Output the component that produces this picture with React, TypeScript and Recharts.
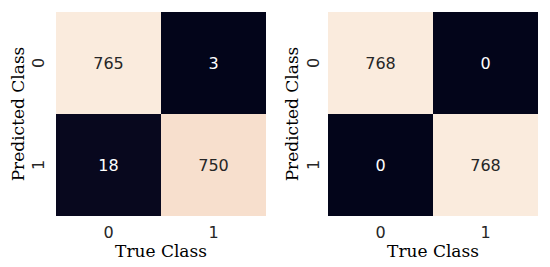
import React from "react";
import { BarChart, Bar, XAxis, YAxis, Cell, LabelList } from "recharts";

const trueClasses = ["0", "1"];
const predictedClasses = ["0", "1"];
// rows: predicted class, cols: true class
const matrixA = [
  [765, 3],
  [18, 750],
];
const matrixB = [
  [768, 0],
  [0, 768],
];

// rocket colormap stops (value -> colour)
const rocketStops: [number, number[]][] = [
  [0.0, [3, 5, 26]],
  [0.02, [8, 8, 30]],
  [0.5, [203, 27, 79]],
  [0.9, [243, 177, 138]],
  [0.98, [247, 223, 205]],
  [1.0, [250, 235, 221]],
];

function rocket(t: number): string {
  for (let i = 1; i < rocketStops.length; i++) {
    const [t1, c1] = rocketStops[i];
    const [t0, c0] = rocketStops[i - 1];
    if (t <= t1) {
      const f = (t - t0) / (t1 - t0 || 1);
      const c = c0.map((v, k) => Math.round(v + (c1[k] - v) * f));
      return `rgb(${c[0]},${c[1]},${c[2]})`;
    }
  }
  const c = rocketStops[rocketStops.length - 1][1];
  return `rgb(${c[0]},${c[1]},${c[2]})`;
}

function buildData(m: number[][]) {
  const flat = m.flat();
  const lo = Math.min(...flat);
  const hi = Math.max(...flat);
  return trueClasses.map((t, j) => {
    const v0 = m[0][j];
    const v1 = m[1][j];
    const n0 = (v0 - lo) / (hi - lo || 1);
    const n1 = (v1 - lo) / (hi - lo || 1);
    return {
      t,
      p1: 1,
      p0: 1,
      v0,
      v1,
      c0: rocket(n0),
      c1: rocket(n1),
      tc0: n0 > 0.5 ? "#262626" : "#ffffff",
      tc1: n1 > 0.5 ? "#262626" : "#ffffff",
    };
  });
}

const SANS = "'DejaVu Sans', sans-serif";
const SERIF = "'DejaVu Serif', serif";

const YTick = (props: any) => {
  const { x, y, payload } = props;
  const label = payload.value > 1 ? predictedClasses[0] : predictedClasses[1];
  return (
    <text
      x={x}
      y={y}
      transform={`rotate(-90 ${x} ${y})`}
      textAnchor="middle"
      dy="0.355em"
      fill="#262626"
      fontSize={16}
      fontFamily={SANS}
    >
      {label}
    </text>
  );
};

const makeLabel = (data: any[], key: "v0" | "v1", colorKey: "tc0" | "tc1") => (props: any) => {
  const { x, y, width, height, index } = props;
  const d = data[index];
  return (
    <text
      x={x + width / 2}
      y={y + height / 2}
      dy="0.355em"
      textAnchor="middle"
      fill={d[colorKey]}
      fontSize={16}
      fontFamily={SANS}
    >
      {d[key]}
    </text>
  );
};

function Heatmap({ m, left, right, yLabelOffset, yTickMargin }: any) {
  const data = buildData(m);
  return (
    <BarChart
      width={275}
      height={267}
      data={data}
      margin={{ top: 12, right, bottom: 0, left: 0 }}
      barCategoryGap={0}
    >
      <XAxis
        dataKey="t"
        height={51}
        tickLine={false}
        axisLine={false}
        tickSize={0}
        tickMargin={11}
        tick={{ fill: "#262626", fontSize: 16, fontFamily: SANS }}
        label={{
          value: "True Class",
          position: "insideBottom",
          offset: 10,
          fill: "#000",
          fontSize: 17,
          fontFamily: SERIF,
        }}
      />
      <YAxis
        type="number"
        domain={[0, 2]}
        ticks={[0.5, 1.5]}
        width={left}
        tickLine={false}
        axisLine={false}
        tickSize={0}
        tickMargin={yTickMargin}
        tick={<YTick />}
        label={{
          value: "Predicted Class",
          angle: -90,
          position: "insideLeft",
          offset: yLabelOffset,
          fill: "#000",
          fontSize: 17,
          fontFamily: SERIF,
          style: { textAnchor: "middle" },
        }}
      />
      <Bar dataKey="p1" stackId="s" isAnimationActive={false}>
        {data.map((d, i) => (
          <Cell key={i} fill={d.c1} />
        ))}
        <LabelList dataKey="v1" content={makeLabel(data, "v1", "tc1")} />
      </Bar>
      <Bar dataKey="p0" stackId="s" isAnimationActive={false}>
        {data.map((d, i) => (
          <Cell key={i} fill={d.c0} />
        ))}
        <LabelList dataKey="v0" content={makeLabel(data, "v0", "tc0")} />
      </Bar>
    </BarChart>
  );
}

export default function App() {
  return (
    <div
      style={{
        position: "absolute",
        top: 0,
        left: 0,
        width: 550,
        height: 267,
        background: "#fff",
        display: "flex",
      }}
    >
      <Heatmap m={matrixA} left={56} right={9} yLabelOffset={18} yTickMargin={18} />
      <Heatmap m={matrixB} left={53} right={12} yLabelOffset={17} yTickMargin={15} />
    </div>
  );
}
